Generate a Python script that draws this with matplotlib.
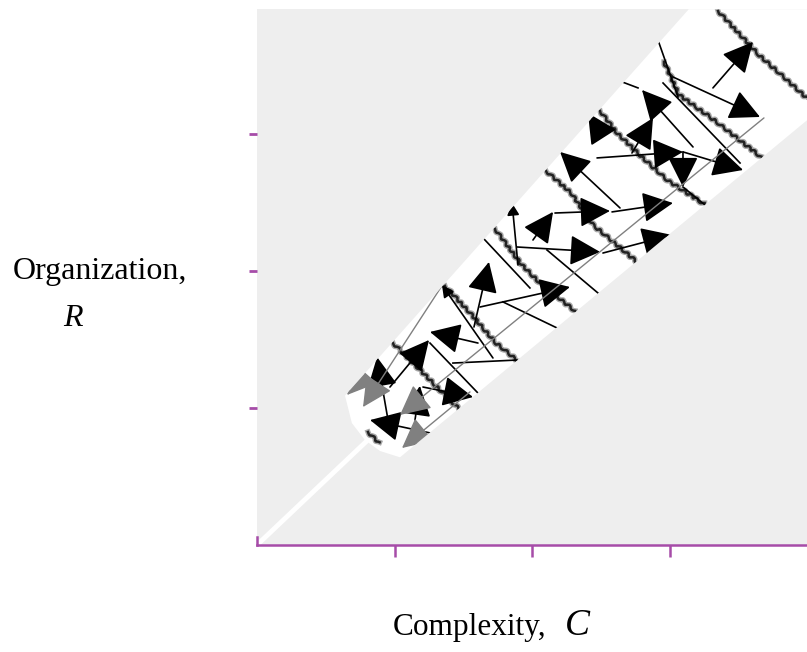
import matplotlib
matplotlib.use("Agg")
import matplotlib.pyplot as plt
from matplotlib.patches import Polygon, FancyArrowPatch
import matplotlib.patheffects as pe

# axis ticks (complexity C, organization R)
c_ticks = [1, 2, 3]
r_ticks = [1, 2, 3]

# outline of the white band (C, R)
band_C = [0.64, 3.14, 4.00, 4.00, 1.04, 0.895, 0.785, 0.69]
band_R = [1.09, 3.91, 3.91, 3.10, 0.64, 0.686, 0.766, 0.89]

# thin white trail from the origin
trail_C = [0.0, 0.81]
trail_R = [0.0, 0.77]

# black arrows: tail (C, R) -> tip (C, R)
arrow_tail_C = [1.578, 1.607, 0.967, 1.207, 0.953, 1.258, 2.640, 2.167, 2.007, 2.582, 2.473,
                1.891, 2.516, 1.622, 3.316, 3.025, 3.171, 2.727, 3.098, 3.098, 1.149, 2.495]
arrow_tail_R = [1.591, 1.474, 1.153, 1.153, 0.912, 0.818, 2.460, 2.423, 2.226, 2.431, 2.825,
                2.175, 2.131, 1.737, 3.336, 3.416, 2.905, 2.861, 2.869, 2.869, 0.912, 3.015]
arrow_tip_C = [1.687, 1.258, 1.251, 1.571, 0.873, 0.822, 2.204, 2.567, 2.153, 3.025, 3.098,
               2.495, 3.018, 2.276, 3.607, 3.658, 2.800, 2.880, 3.535, 3.098, 1.185, 2.407]
arrow_tip_R = [2.066, 1.555, 1.496, 1.080, 1.372, 0.912, 2.869, 2.438, 2.431, 2.496, 2.869,
               2.139, 2.263, 1.883, 3.672, 3.124, 3.321, 3.117, 2.737, 2.613, 1.161, 3.153]

# arrows with small heads
small_tail_C = [1.716, 1.898]
small_tail_R = [1.365, 2.044]
small_tip_C = [1.345, 1.855]
small_tip_R = [1.898, 2.496]

# plain black strokes
seg_C0 = [1.258, 1.644, 2.109, 1.789, 1.425, 2.916, 2.953, 2.655, 3.098]
seg_R0 = [1.474, 2.241, 2.153, 1.774, 1.328, 3.686, 3.372, 3.380, 2.613]
seg_C1 = [1.607, 1.985, 2.480, 2.182, 1.891, 3.062, 3.513, 2.771, 3.258]
seg_R1 = [1.109, 1.876, 1.839, 1.584, 1.350, 3.270, 2.788, 3.336, 2.482]

# grey trajectories ending in grey arrowheads
grey_tail_C = [3.687, 1.491, 1.549, 0.786]
grey_tail_R = [3.117, 2.117, 1.117, 1.241]
grey_tip_C = [1.040, 0.771, 1.055, 0.655]
grey_tip_R = [0.949, 1.007, 0.708, 1.095]

# wavy contour lines
wave_C = [
    [3.353, 3.433, 3.651, 4.015],
    [2.495, 2.618, 2.807, 2.982, 3.251],
    [2.960, 3.069, 3.295, 3.666],
    [2.102, 2.284, 2.444, 2.756],
    [1.731, 1.920, 2.051, 2.313],
    [1.367, 1.556, 1.738, 1.898],
    [0.989, 1.171, 1.353, 1.484],
    [0.807, 0.887],
]
wave_R = [
    [3.898, 3.810, 3.577, 3.248],
    [3.168, 3.007, 2.825, 2.664, 2.489],
    [3.526, 3.285, 3.124, 2.832],
    [2.730, 2.569, 2.336, 2.073],
    [2.307, 2.051, 1.920, 1.708],
    [1.891, 1.686, 1.474, 1.343],
    [1.474, 1.292, 1.109, 0.978],
    [0.825, 0.745],
]

purple = '#a64ca8'
head = '-|>,head_length=1.0,head_width=0.5'

fig = plt.figure(figsize=(8.07, 6.52), dpi=100)
ax = fig.add_axes([257 / 807, 107 / 652, 550 / 807, 536 / 652])
ax.set_xlim(0, 4)
ax.set_ylim(0, 3.912)
ax.set_facecolor('#eeeeee')

band = Polygon(list(zip(band_C, band_R)), closed=True, facecolor='white',
               edgecolor='none', zorder=1)
ax.add_patch(band)
ax.plot(trail_C, trail_R, color='white', lw=3.5, zorder=1, solid_capstyle='butt')

# wavy lines
for cs, rs in zip(wave_C, wave_R):
    ln, = ax.plot(cs, rs, color='#222222', lw=1.8, zorder=2,
                  path_effects=[pe.Stroke(linewidth=3.8, foreground='#a8a8a8'), pe.Normal()])
    ln.set_sketch_params(1.3, 9, 2)
    ln.set_clip_path(band)

# grey trajectories
for c0, r0, c1, r1 in zip(grey_tail_C, grey_tail_R, grey_tip_C, grey_tip_R):
    a = FancyArrowPatch((c0, r0), (c1, r1), arrowstyle=head,
                        mutation_scale=19, color='#808080', lw=1.0,
                        shrinkA=0, shrinkB=0, zorder=4)
    ax.add_patch(a)
    a.set_clip_path(band)

# plain strokes
for c0, r0, c1, r1 in zip(seg_C0, seg_R0, seg_C1, seg_R1):
    ln, = ax.plot([c0, c1], [r0, r1], color='black', lw=1.2, zorder=3)
    ln.set_clip_path(band)

# black arrows
for c0, r0, c1, r1 in zip(arrow_tail_C, arrow_tail_R, arrow_tip_C, arrow_tip_R):
    a = FancyArrowPatch((c0, r0), (c1, r1), arrowstyle=head,
                        mutation_scale=19, color='black', lw=1.2,
                        shrinkA=0, shrinkB=0, zorder=3)
    ax.add_patch(a)
    a.set_clip_path(band)

for c0, r0, c1, r1 in zip(small_tail_C, small_tail_R, small_tip_C, small_tip_R):
    a = FancyArrowPatch((c0, r0), (c1, r1), arrowstyle='-|>,head_length=0.8,head_width=0.4',
                        mutation_scale=9, color='black', lw=1.2,
                        shrinkA=0, shrinkB=0, zorder=3)
    ax.add_patch(a)
    a.set_clip_path(band)

# axes styling
for s in ['top', 'right']:
    ax.spines[s].set_visible(False)
ax.spines['bottom'].set_color(purple)
ax.spines['bottom'].set_linewidth(1.8)
ax.spines['left'].set_color(purple)
ax.spines['left'].set_linewidth(1.8)
ax.spines['left'].set_bounds(0, 0.06)
ax.set_xticks(c_ticks)
ax.set_yticks(r_ticks)
ax.tick_params(axis='x', direction='out', length=8.5, width=1.8, color=purple,
               labelbottom=False)
ax.tick_params(axis='y', direction='out', length=6, width=2.0, color=purple,
               labelleft=False)

serif = ['Liberation Serif', 'DejaVu Serif']
fig.text(13 / 807, 1 - 279 / 652, 'Organization,', family=serif, fontsize=23,
         ha='left', va='baseline')
fig.text(63 / 807, 1 - 326 / 652, 'R', family=serif, style='italic', fontsize=23,
         ha='left', va='baseline')
fig.text(393 / 807, 1 - 635 / 652, 'Complexity,', family=serif, fontsize=22.5,
         ha='left', va='baseline')
fig.text(565 / 807, 1 - 635 / 652, 'C', family=serif, style='italic', fontsize=27,
         ha='left', va='baseline')

fig.savefig('out.png', dpi=100)
